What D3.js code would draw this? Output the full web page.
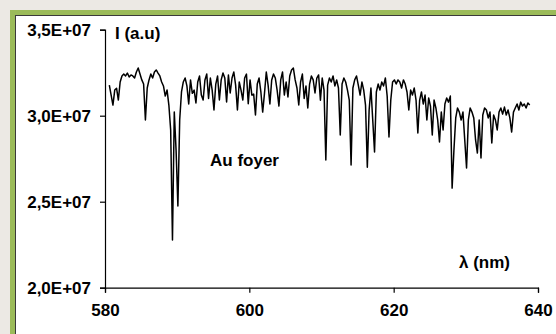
<!DOCTYPE html>
<html>
<head>
<meta charset="utf-8">
<script src="https://cdn.jsdelivr.net/npm/d3@7"></script>
<style>
  html, body { margin: 0; padding: 0; background: #ece9e4; }
  svg { display: block; }
  text { font-family: "Liberation Sans", Arial, sans-serif; font-weight: bold; fill: #000; }
</style>
</head>
<body>
<svg id="chart" width="556" height="334"></svg>
<script>
// intensity is in units of 1E+07 (a.u), wavelength in nm
const spectrum = [
  [580.6, 3.178], [580.85, 3.12], [581.1, 3.062], [581.35, 3.149], [581.6, 3.16], [581.85, 3.091],
  [582.1, 3.196], [582.35, 3.231], [582.6, 3.242], [582.85, 3.231], [583.1, 3.248], [583.35, 3.225],
  [583.6, 3.237], [583.85, 3.231], [584.1, 3.219], [584.35, 3.254], [584.6, 3.277], [584.85, 3.242],
  [585.1, 3.208], [585.35, 3.184], [585.6, 2.975], [585.85, 3.161], [586.1, 3.208], [586.35, 3.242],
  [586.6, 3.219], [586.85, 3.254], [587.1, 3.266], [587.35, 3.248], [587.6, 3.231], [587.85, 3.196],
  [588.1, 3.173], [588.35, 3.114], [588.6, 3.149], [588.85, 3.062], [589.1, 2.917], [589.35, 2.277],
  [589.6, 3.021], [589.85, 2.80], [590.1, 2.475], [590.35, 2.975], [590.6, 3.138], [590.85, 3.196],
  [591.1, 3.219], [591.35, 3.173], [591.6, 3.068], [591.85, 3.208], [592.1, 3.13], [592.35, 3.149],
  [592.6, 3.074], [592.85, 3.196], [593.1, 3.231], [593.35, 3.12], [593.6, 3.091], [593.85, 3.208],
  [594.1, 3.242], [594.35, 3.10], [594.6, 3.219], [594.85, 3.149], [595.1, 3.033], [595.35, 3.184],
  [595.6, 3.231], [595.85, 3.091], [596.1, 3.208], [596.35, 3.248], [596.6, 3.219], [596.85, 3.08],
  [597.1, 3.237], [597.35, 3.132], [597.6, 3.219], [597.85, 3.254], [598.1, 3.178], [598.35, 3.033],
  [598.6, 3.196], [598.85, 3.149], [599.1, 3.091], [599.35, 3.219], [599.6, 3.242], [599.85, 3.07],
  [600.1, 3.208], [600.35, 3.12], [600.6, 3.126], [600.85, 3.004], [601.1, 3.184], [601.35, 3.219],
  [601.6, 3.138], [601.85, 3.021], [602.1, 3.13], [602.35, 3.254], [602.6, 3.178], [602.85, 3.068],
  [603.1, 3.208], [603.35, 3.242], [603.6, 3.219], [603.85, 3.149], [604.1, 3.056], [604.35, 3.208],
  [604.6, 3.254], [604.85, 3.12], [605.1, 3.196], [605.35, 3.109], [605.6, 3.231], [605.85, 3.266],
  [606.1, 3.277], [606.35, 3.208], [606.6, 3.161], [606.85, 3.062], [607.1, 3.196], [607.35, 3.242],
  [607.6, 3.10], [607.85, 3.173], [608.1, 3.045], [608.35, 3.184], [608.6, 3.231], [608.85, 3.208],
  [609.1, 3.132], [609.35, 3.219], [609.6, 3.237], [609.85, 3.09], [610.1, 3.219], [610.35, 3.149],
  [610.6, 2.742], [610.85, 3.178], [611.1, 3.219], [611.35, 3.196], [611.6, 3.231], [611.85, 3.173],
  [612.1, 3.208], [612.35, 3.161], [612.6, 2.888], [612.85, 3.184], [613.1, 3.219], [613.35, 3.196],
  [613.6, 3.149], [613.85, 3.091], [614.1, 2.713], [614.35, 3.161], [614.6, 3.208], [614.85, 3.231],
  [615.1, 3.178], [615.35, 3.12], [615.6, 3.196], [615.85, 3.149], [616.1, 3.062], [616.35, 2.701],
  [616.6, 3.033], [616.85, 3.161], [617.1, 2.975], [617.35, 2.789], [617.6, 3.138], [617.85, 3.184],
  [618.1, 3.149], [618.35, 3.196], [618.6, 3.173], [618.85, 3.219], [619.1, 3.114], [619.35, 2.876],
  [619.6, 3.091], [619.85, 3.196], [620.1, 3.208], [620.35, 3.184], [620.6, 3.208], [620.85, 3.196],
  [621.1, 3.161], [621.35, 3.208], [621.6, 3.184], [621.85, 3.138], [622.1, 3.033], [622.35, 3.149],
  [622.6, 3.12], [622.85, 3.161], [623.1, 3.091], [623.35, 2.90], [623.6, 3.091], [623.85, 3.138],
  [624.1, 3.068], [624.35, 3.12], [624.6, 2.975], [624.85, 3.103], [625.1, 3.056], [625.35, 2.888],
  [625.6, 3.091], [625.85, 3.045], [626.1, 2.975], [626.35, 2.847], [626.6, 3.021], [626.85, 2.917],
  [627.1, 3.068], [627.35, 3.103], [627.6, 3.079], [627.85, 3.114], [628.1, 2.579], [628.35, 2.80],
  [628.6, 2.987], [628.85, 3.045], [629.1, 3.021], [629.35, 2.975], [629.6, 3.021], [629.85, 2.859],
  [630.1, 2.696], [630.35, 2.975], [630.6, 3.045], [630.85, 3.021], [631.1, 2.987], [631.35, 2.859],
  [631.6, 2.783], [631.85, 2.975], [632.1, 2.754], [632.35, 3.004], [632.6, 3.045], [632.85, 3.033],
  [633.1, 2.987], [633.35, 3.021], [633.6, 2.841], [633.85, 3.004], [634.1, 2.975], [634.35, 2.917],
  [634.6, 3.021], [634.85, 3.045], [635.1, 3.009], [635.35, 3.05], [635.6, 3.004], [635.85, 3.033],
  [636.1, 2.987], [636.35, 2.905], [636.6, 3.021], [636.85, 3.045], [637.1, 3.068], [637.35, 3.033],
  [637.6, 3.079], [637.85, 3.056], [638.1, 3.068], [638.35, 3.045], [638.6, 3.074], [638.85, 3.062]
];

const xTicks = [580, 600, 620, 640];
const yTicks = [2.0, 2.5, 3.0, 3.5];
const yTickLabels = ["2,0E+07", "2,5E+07", "3,0E+07", "3,5E+07"];

const svg = d3.select("#chart");

// frame: green border with a thin dark inner edge, white plot area
svg.append("rect").attr("x", 10).attr("y", 10).attr("width", 560).attr("height", 340).attr("fill", "#9bbb59");
svg.append("rect").attr("x", 15).attr("y", 15).attr("width", 560).attr("height", 340).attr("fill", "#3a3a3a");
svg.append("rect").attr("x", 16).attr("y", 16).attr("width", 560).attr("height", 340).attr("fill", "#ffffff");

const x = d3.scaleLinear().domain([580, 640]).range([105, 538]);
const y = d3.scaleLinear().domain([2.0, 3.5]).range([287.7, 29.7]);

const xAxis = svg.append("g")
  .attr("transform", `translate(0,${y(2.0)})`)
  .call(d3.axisBottom(x).tickValues(xTicks).tickSizeOuter(0).tickSize(5).tickPadding(11).tickFormat(d3.format("d")));

const yAxis = svg.append("g")
  .attr("transform", `translate(${x(580)},0)`)
  .call(d3.axisLeft(y).tickValues(yTicks).tickSizeOuter(0).tickSize(5).tickPadding(9)
    .tickFormat((d, i) => yTickLabels[i]));

[xAxis, yAxis].forEach((g) => {
  g.select(".domain").attr("stroke", "#000").attr("stroke-width", 1.2);
  g.selectAll(".tick line").attr("stroke", "#000").attr("stroke-width", 1.2);
  g.selectAll(".tick text")
    .attr("font-family", "Liberation Sans, Arial, sans-serif")
    .attr("font-weight", "bold")
    .attr("font-size", 17)
    .attr("fill", "#000");
});

const line = d3.line()
  .x((d) => x(d[0]))
  .y((d) => y(d[1]));

svg.append("path")
  .datum(spectrum)
  .attr("fill", "none")
  .attr("stroke", "#000")
  .attr("stroke-width", 1.5)
  .attr("stroke-linejoin", "round")
  .attr("d", line);

svg.append("text").attr("x", 115).attr("y", 39).attr("font-size", 17).text("I (a.u)");
svg.append("text").attr("x", 210).attr("y", 166).attr("font-size", 17).text("Au foyer");
svg.append("text").attr("x", 459).attr("y", 268).attr("font-size", 17).text("λ (nm)");
</script>
</body>
</html>
